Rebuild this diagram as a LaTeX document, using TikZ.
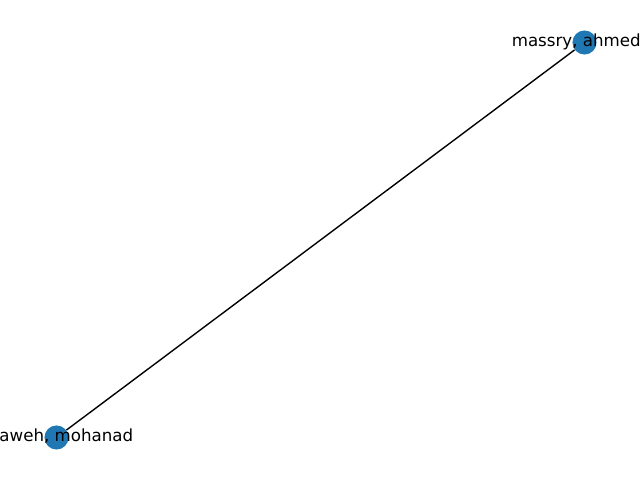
\documentclass[tikz,border=0pt]{standalone}
\usepackage{fontspec}
\setmainfont{DejaVu Sans}
\definecolor{nodeblue}{RGB}{31,119,180}

\begin{document}
\begin{tikzpicture}[x=0.72pt,y=-0.72pt]
    \tikzstyle{person} = [circle,fill=nodeblue,draw=none,minimum size=17.32pt,inner sep=0pt]
    \tikzstyle{personlabel} = [inner sep=0pt,font=\fontsize{12pt}{14pt}\selectfont]
    \useasboundingbox (0,0) rectangle (640,480);
    \clip (0,0) rectangle (640,480);
    \node [person] (ahmed) at (584.5, 42.5) {};
    \node [person] (mohanad) at (56.5, 437.5) {};
    \draw [line width=1pt] (ahmed) -- (mohanad);
    \node [personlabel,anchor=base west] (ahmedname) at (511.5, 46.8) {massry, ahmed};
    \node [personlabel,anchor=base east] (mohanadname) at (133.5, 441.8) {aweh, mohanad};
  \end{tikzpicture}
\end{document}
